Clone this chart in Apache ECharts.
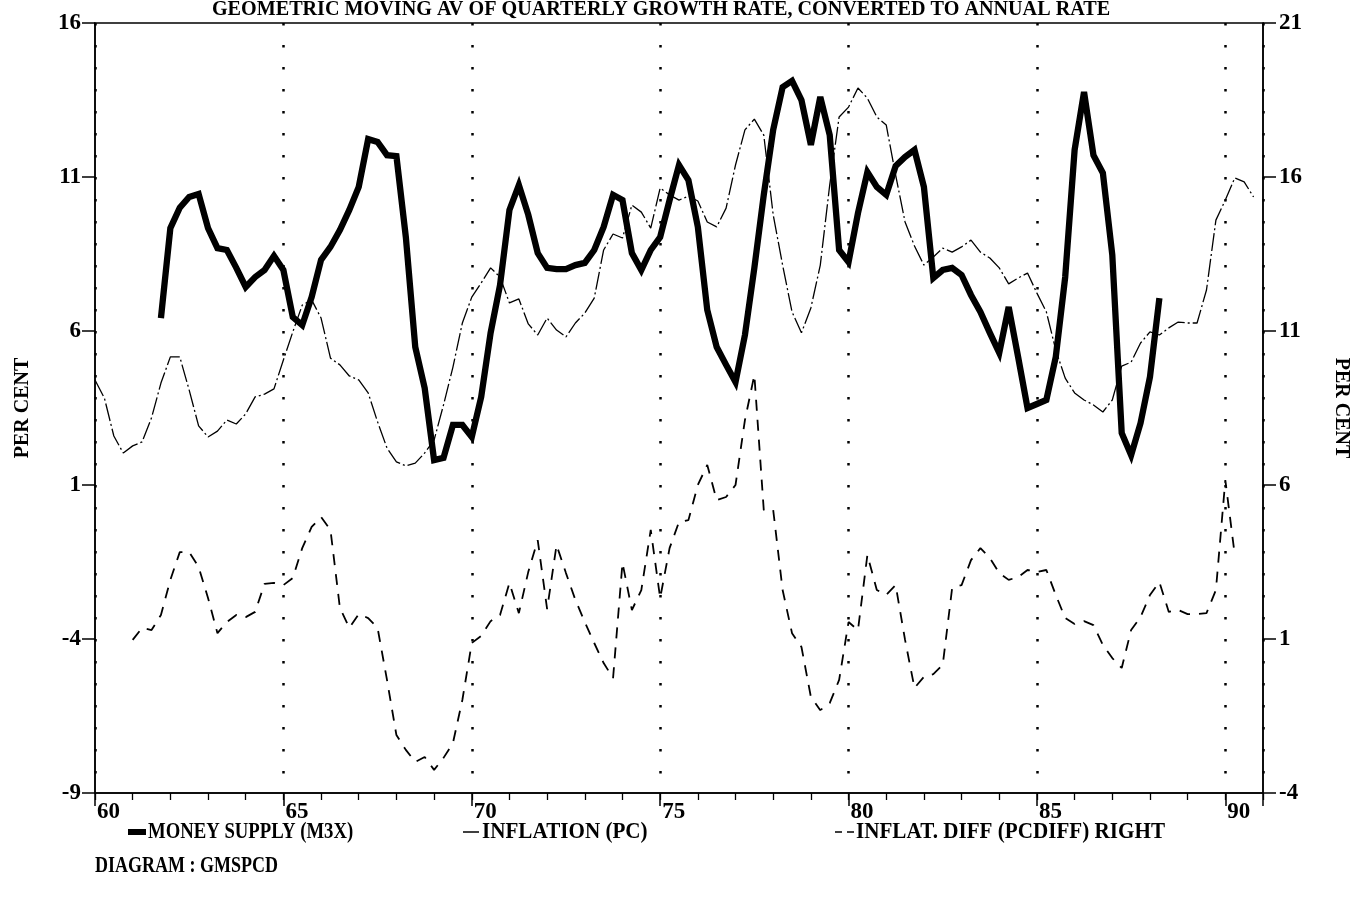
<!DOCTYPE html>
<html><head><meta charset="utf-8">
<script src="https://cdn.jsdelivr.net/npm/echarts@6/dist/echarts.min.js"></script>
<style>html,body{margin:0;padding:0;background:#fff}#c{width:1369px;height:903px}</style>
</head><body><div id="c"></div>
<script>
// x-axis tick labels (years, 19xx)
const yearLabels = [60, 65, 70, 75, 80, 85, 90];
// quarterly series; first observation time (year) and values
const m3xStart = 61.75;   // MONEY SUPPLY (M3X), left axis
const m3x = [6.42,9.34,10.0,10.35,10.45,9.34,8.69,8.63,8.05,7.43,
  7.75,7.98,8.44,7.98,6.45,6.19,7.10,8.31,8.73,9.28,
  9.93,10.68,12.23,12.14,11.71,11.68,9.05,5.48,4.15,1.81,
  1.88,2.95,2.95,2.56,3.86,5.94,7.49,9.93,10.74,9.77,
  8.53,8.05,8.01,8.01,8.14,8.21,8.63,9.38,10.42,10.25,
  8.53,7.98,8.63,9.05,10.25,11.39,10.90,9.38,6.68,5.48,
  4.90,4.34,5.87,8.05,10.42,12.53,13.92,14.12,13.5,12.04,
  13.6,12.36,8.63,8.24,9.83,11.16,10.68,10.42,11.36,11.65,
  11.88,10.68,7.72,7.98,8.05,7.82,7.17,6.62,5.94,5.29,
  6.78,5.16,3.50,3.63,3.76,5.16,7.75,11.88,13.76,11.71,
  11.13,8.47,2.69,1.97,3.01,4.51,7.07];
const pcStart = 60.0;     // INFLATION (PC), left axis
const pc = [4.41,3.82,2.59,2.04,2.27,2.40,3.18,4.31,5.16,5.16,
  4.08,2.92,2.56,2.75,3.11,2.98,3.31,3.86,3.95,4.12,
  5.06,5.97,6.84,7.01,6.42,5.12,4.90,4.54,4.41,3.99,
  3.05,2.20,1.75,1.62,1.71,2.04,2.46,3.60,4.83,6.26,
  7.10,7.56,8.05,7.75,6.91,7.04,6.23,5.87,6.42,6.03,
  5.81,6.26,6.58,7.07,8.63,9.15,9.02,10.09,9.86,9.34,
  10.64,10.42,10.25,10.38,10.22,9.54,9.38,9.99,11.39,12.53,
  12.88,12.36,9.77,8.14,6.62,5.94,6.75,8.14,10.74,12.95,
  13.27,13.89,13.56,12.95,12.69,11.06,9.54,8.76,8.14,8.40,
  8.69,8.56,8.73,8.95,8.56,8.37,8.05,7.53,7.72,7.88,
  7.23,6.62,5.38,4.47,3.99,3.76,3.60,3.37,3.76,4.86,
  4.99,5.61,5.97,5.87,6.10,6.29,6.26,6.26,7.33,9.60,
  10.25,10.97,10.84,10.35];
const pcdiffStart = 61.0; // INFLAT. DIFF (PCDIFF), right axis
const pcdiff = [0.97,1.36,1.29,1.78,2.92,3.82,3.82,3.34,2.33,1.19,
  1.55,1.78,1.71,1.88,2.79,2.82,2.75,2.98,3.95,4.64,
  4.96,4.54,2.01,1.36,1.81,1.68,1.36,-0.33,-2.12,-2.60,
  -2.99,-2.83,-3.25,-2.86,-2.38,-0.98,0.87,1.10,1.58,1.78,
  2.82,1.84,3.18,4.21,1.97,4.05,3.14,2.27,1.55,0.87,
  0.22,-0.27,3.47,1.94,2.59,4.54,2.33,3.95,4.80,4.86,
  6.00,6.65,5.51,5.61,6.00,8.11,9.57,5.19,5.19,2.59,
  1.19,0.74,-0.88,-1.31,-1.08,-0.33,1.55,1.29,3.73,2.59,
  2.43,2.75,0.97,-0.59,-0.23,-0.14,0.16,2.66,2.75,3.56,
  3.95,3.63,3.14,2.92,3.01,3.24,3.18,3.24,2.43,1.68,
  1.49,1.58,1.45,0.81,0.38,0.06,1.29,1.71,2.43,2.85,
  1.88,1.94,1.81,1.81,1.84,2.59,6.16,3.73];

const titleText = 'GEOMETRIC MOVING AV OF QUARTERLY GROWTH RATE, CONVERTED TO ANNUAL RATE';
const legendNames = ['MONEY SUPPLY (M3X)', 'INFLATION (PC)', 'INFLAT. DIFF (PCDIFF) RIGHT'];
const diagramText = 'DIAGRAM : GMSPCD';

const F = '"Liberation Serif", "DejaVu Serif", serif';
const pairs = (start, arr) => arr.map((v, i) => [start + i * 0.25, v]);

const chart = echarts.init(document.getElementById('c'), null, {renderer: 'canvas'});
const axisLabelStyle = {color: '#000', fontFamily: F, fontWeight: 'bold', fontSize: 23};
const nameStyle = {color: '#000', fontFamily: F, fontWeight: 'bold', fontSize: 20};

function gText(x, y, text, size, sx, align) {
  return {type: 'text', x: x, y: y, scaleX: sx, silent: true,
    style: {text: text, x: 0, y: 0, fill: '#000', font: 'bold ' + size + 'px ' + F,
      textAlign: align || 'left', textVerticalAlign: 'middle'}};
}

chart.setOption({
  animation: false,
  backgroundColor: '#fff',
  grid: {left: 95, right: 106, top: 23, bottom: 110, show: true, borderColor: '#000', borderWidth: 1.5},
  xAxis: [{
    type: 'value', min: 60, max: 91, interval: 5, position: 'bottom',
    axisLine: {onZero: false, lineStyle: {color: '#000', width: 1.5}},
    axisTick: {length: 13, lineStyle: {color: '#000', width: 1.5}},
    axisLabel: Object.assign({margin: 8, align: 'left', padding: [0, 0, 0, 2],
      formatter: v => yearLabels.indexOf(v) >= 0 ? String(v) : ''}, axisLabelStyle),
    splitLine: {show: true, lineStyle: {color: '#000', width: 2.5, type: [2.5, 19.5]}}
  }, {
    type: 'value', min: 60, max: 91, interval: 1, position: 'bottom',
    axisLine: {show: false, onZero: false}, axisLabel: {show: false}, splitLine: {show: false},
    axisTick: {length: 7, lineStyle: {color: '#000', width: 1.3}}
  }],
  yAxis: [{
    type: 'value', min: -9, max: 16, interval: 5, position: 'left',
    axisLine: {show: true, onZero: false, lineStyle: {color: '#000', width: 1.5}},
    axisTick: {show: true, length: 13, lineStyle: {color: '#000', width: 1.5}},
    axisLabel: Object.assign({margin: 14}, axisLabelStyle),
    splitLine: {show: false},
    name: 'PER CENT', nameLocation: 'middle', nameRotate: 90, nameGap: 62, nameTextStyle: nameStyle
  }, {
    type: 'value', min: -4, max: 21, interval: 5, position: 'right',
    axisLine: {show: true, onZero: false, lineStyle: {color: '#000', width: 1.5}},
    axisTick: {show: true, length: 13, lineStyle: {color: '#000', width: 1.5}},
    axisLabel: Object.assign({margin: 16}, axisLabelStyle),
    splitLine: {show: false},
    name: 'PER CENT', nameLocation: 'middle', nameRotate: -90, nameGap: 68, nameTextStyle: nameStyle
  }],
  series: [{
    name: legendNames[0], type: 'line', xAxisIndex: 0, yAxisIndex: 0, data: pairs(m3xStart, m3x),
    showSymbol: false, symbol: 'none', z: 5,
    lineStyle: {color: '#000', width: 6.3, join: 'miter', miterLimit: 4}
  }, {
    name: legendNames[1], type: 'line', xAxisIndex: 0, yAxisIndex: 0, data: pairs(pcStart, pc),
    showSymbol: false, symbol: 'none', z: 4,
    lineStyle: {color: '#000', width: 1.3, type: [18, 3, 2, 3]}
  }, {
    name: legendNames[2], type: 'line', xAxisIndex: 0, yAxisIndex: 1, data: pairs(pcdiffStart, pcdiff),
    showSymbol: false, symbol: 'none', z: 4,
    lineStyle: {color: '#000', width: 1.8, type: [11, 9]}
  }],
  graphic: [
    gText(661, 9, titleText, 22, 0.916, 'center'),
    {type: 'rect', silent: true, shape: {x: 128, y: 829, width: 18, height: 6}, style: {fill: '#000'}},
    gText(148, 832, legendNames[0], 24, 0.78),
    {type: 'line', silent: true, shape: {x1: 463, y1: 832, x2: 479, y2: 832}, style: {stroke: '#000', lineWidth: 1.5}},
    gText(482, 832, legendNames[1], 24, 0.88),
    {type: 'line', silent: true, shape: {x1: 835, y1: 832, x2: 854, y2: 832}, style: {stroke: '#000', lineWidth: 1.5, lineDash: [7, 5]}},
    gText(856, 832, legendNames[2], 24, 0.88),
    gText(95, 866, diagramText, 24, 0.75)
  ]
});
</script></body></html>
